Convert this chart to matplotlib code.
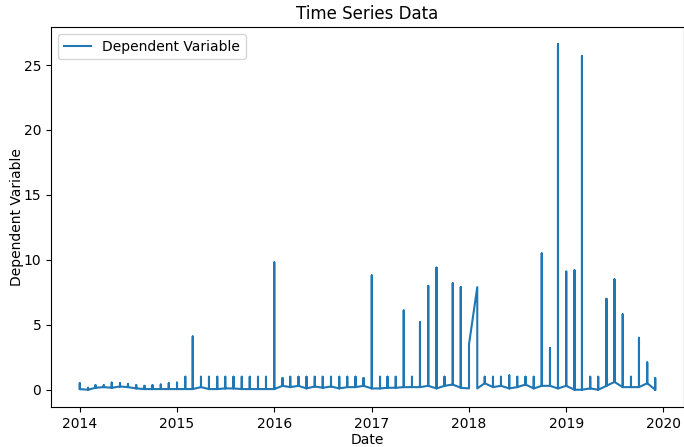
import numpy as np
import pandas as pd
import matplotlib
matplotlib.use('Agg')
import matplotlib.pyplot as plt
import matplotlib.dates as mdates

# monthly observations, Jan 2014 .. Dec 2019
months = pd.date_range('2014-01-01', '2019-12-01', freq='MS')

# low value recorded each month (the "baseline")
base_vals = [
    0.05, 0.0, 0.15, 0.2, 0.15, 0.25, 0.2, 0.1, 0.05, 0.05, 0.05, 0.05,   # 2014
    0.05, 0.05, 0.05, 0.2, 0.05, 0.05, 0.1, 0.1, 0.05, 0.05, 0.05, 0.05,  # 2015
    0.05, 0.3, 0.2, 0.3, 0.1, 0.25, 0.15, 0.25, 0.1, 0.2, 0.2, 0.3,       # 2016
    0.1, 0.1, 0.15, 0.15, 0.2, 0.2, 0.2, 0.3, 0.1, 0.3, 0.4, 0.15,        # 2017
    0.1, 0.1, 0.5, 0.2, 0.3, 0.1, 0.2, 0.4, 0.1, 0.3, 0.3, 0.1,           # 2018
    0.3, 0.0, 0.0, 0.1, 0.0, 0.3, 0.6, 0.2, 0.2, 0.2, 0.5, 0.0,           # 2019
]

# high value recorded each month (the spikes)
peak_vals = [
    0.5, 0.15, 0.35, 0.35, 0.55, 0.5, 0.45, 0.35, 0.3, 0.35, 0.4, 0.5,    # 2014
    0.55, 1.0, 4.1, 1.0, 1.0, 1.0, 1.0, 1.0, 1.0, 1.0, 1.0, 1.0,          # 2015
    9.8, 0.9, 1.0, 1.0, 1.0, 1.0, 1.0, 1.0, 1.0, 1.0, 1.0, 0.9,           # 2016
    8.8, 1.0, 1.0, 1.0, 6.1, 1.0, 5.2, 8.0, 9.4, 1.0, 8.2, 7.9,           # 2017
    3.5, 7.9, 1.0, 1.0, 1.0, 1.1, 1.0, 1.0, 1.0, 10.5, 3.2, 26.6,         # 2018
    9.1, 9.2, 25.7, 1.0, 1.0, 7.0, 8.5, 5.8, 1.0, 4.0, 2.1, 0.9,          # 2019
]

# months whose high row is directly followed by next month's high row
linked = ['2018-01']

# build the rows in file order: low, high, low for each month
dates = []
values = []
skip_first = False
for i, d in enumerate(months):
    tag = d.strftime('%Y-%m')
    if not skip_first:
        dates.append(d); values.append(base_vals[i])
    dates.append(d); values.append(peak_vals[i])
    skip_first = False
    if tag in linked:
        skip_first = True
        continue
    dates.append(d); values.append(base_vals[i])

fig = plt.figure(figsize=(6.84, 4.47), dpi=100)
ax = fig.add_axes([51/684, 40/447, 633/684, 380/447])
ax.plot(dates, values, label='Dependent Variable')

ax.xaxis.set_major_locator(mdates.YearLocator())
ax.xaxis.set_major_formatter(mdates.DateFormatter('%Y'))
ax.set_title('Time Series Data')
ax.set_xlabel('Date', labelpad=2)
ax.set_ylabel('Dependent Variable', labelpad=0)
ax.legend(loc='upper left')

fig.savefig('out.png', dpi=100)
